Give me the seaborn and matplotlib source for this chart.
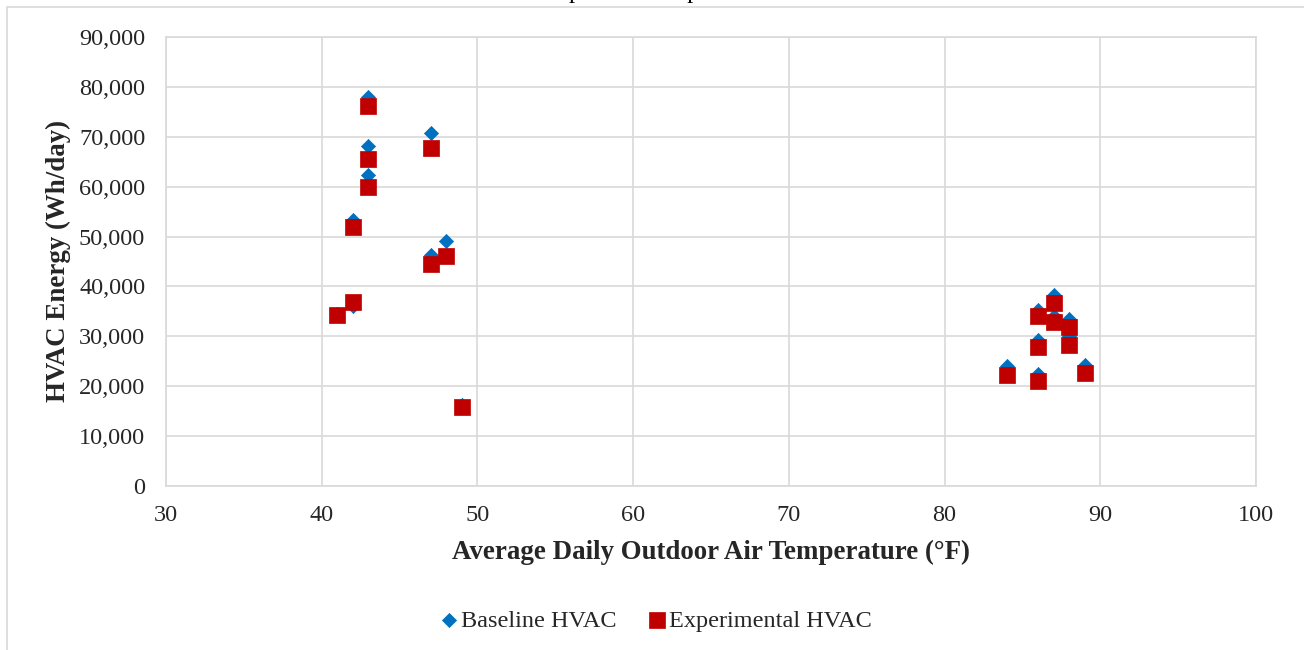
import matplotlib
matplotlib.use('Agg')
import matplotlib.pyplot as plt
import matplotlib.patches as mpatches
import seaborn as sns

# Data
base_temp = [43, 47, 43, 43, 42, 48, 47, 42, 41, 49,
             84, 86, 86, 86, 87, 87, 88, 88, 89]
base_energy = [78000, 70800, 68200, 62300, 53300, 49200, 46300, 36000, 34500, 16200,
               24000, 35200, 29200, 22500, 38200, 34000, 33500, 30000, 24200]

exp_temp = [43, 47, 43, 43, 42, 48, 47, 42, 41, 49,
            84, 86, 86, 86, 87, 87, 88, 88, 89]
exp_energy = [76200, 67750, 65500, 60000, 52000, 46100, 44500, 36800, 34300, 15900,
              22250, 34100, 27800, 21050, 36600, 32900, 31900, 28250, 22700]

x_ticks = [30, 40, 50, 60, 70, 80, 90, 100]
y_ticks = [0, 10000, 20000, 30000, 40000, 50000, 60000, 70000, 80000, 90000]

sns.set_theme(style='white')
plt.rcParams['font.family'] = ['Liberation Serif', 'DejaVu Serif']

fig = plt.figure(figsize=(13.04, 6.5), dpi=100)
ax = fig.add_axes([0.1273, 0.2523, 0.8359, 0.6908])

# Outer chart-area frame (runs off the right and bottom edges)
fig.patches.append(mpatches.Rectangle((7 / 1304, -0.1), 1.2, 1 - 7 / 650 + 0.1,
                                      transform=fig.transFigure, fill=False,
                                      edgecolor='#d9d9d9', linewidth=1.2, zorder=0))

# Caption from the page above the chart, mostly cropped away
fig.text(715 / 1304, 1.003, 'for outdoor weather as the outdoor air temperature drops.',
         fontsize=17.5, va='baseline', ha='right', color='black')

sns.scatterplot(x=base_temp, y=base_energy, marker='D', s=52, color='#0070C0',
                edgecolor='#0070C0', linewidth=0.5, label='Baseline HVAC', ax=ax, zorder=3)
sns.scatterplot(x=exp_temp, y=exp_energy, marker='s', s=118, color='#C00000',
                edgecolor='#C00000', linewidth=0.5, label='Experimental HVAC', ax=ax, zorder=4)

ax.set_xlim(30, 100)
ax.set_ylim(0, 90000)
ax.set_xticks(x_ticks)
ax.set_yticks(y_ticks)
ax.set_yticklabels([f'{v:,}' for v in y_ticks])
ax.tick_params(axis='both', labelsize=17.5, colors='#262626', length=0)
ax.tick_params(axis='x', pad=14)
ax.tick_params(axis='y', pad=15)
ax.grid(True, color='#d9d9d9', linewidth=1.2)
ax.set_axisbelow(True)
for sp in ax.spines.values():
    sp.set_color('#d9d9d9')
    sp.set_linewidth(1.2)

ax.set_xlabel('Average Daily Outdoor Air Temperature (\u00b0F)', fontsize=19.4,
              fontweight='bold', color='#262626', labelpad=10)
ax.set_ylabel('HVAC Energy (Wh/day)', fontsize=19.4, fontweight='bold',
              color='#262626', labelpad=6)

ax.legend(loc='center', bbox_to_anchor=(0.5, 0.045), bbox_transform=fig.transFigure,
          ncol=2, frameon=False, fontsize=17.5, handletextpad=-0.2, handlelength=1.4,
          columnspacing=0.95, markerscale=1.0, labelcolor='#262626')

fig.savefig('out.png', dpi=100)
